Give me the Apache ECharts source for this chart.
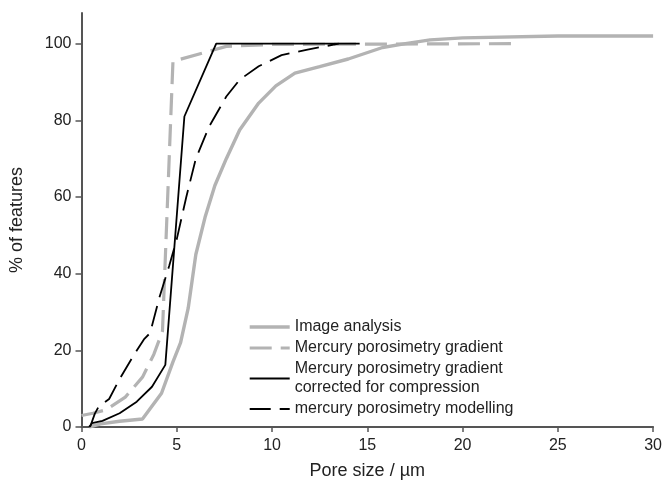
<!DOCTYPE html>
<html>
<head>
<meta charset="utf-8">
<script src="https://cdn.jsdelivr.net/npm/echarts@6/dist/echarts.min.js"></script>
<style>
html,body{margin:0;padding:0;background:#fff;}
#chart{width:665px;height:488px;}
</style>
</head>
<body>
<div id="chart"></div>
<script>
// Data (x = pore size in µm, y = % of features)
var seriesNames = [
  'Image analysis',
  'Mercury porosimetry gradient',
  'Mercury porosimetry gradient\ncorrected for compression',
  'mercury porosimetry modelling'
];
var imageAnalysis = [[0.4,0],[1,0.8],[2,1.5],[3.2,2.1],[4.2,8.8],[4.8,17],[5.2,22],[5.6,31],[6,45],[6.5,55],[7,63],[7.6,70],[8.3,77.5],[9.3,84.5],[10.2,89],[11.2,92.3],[12.5,94],[14,96],[15.8,99],[17,100],[18.3,101],[20,101.5],[25,102],[30,102]];
var mercuryGradient = [[0,3],[0.6,3.6],[1.3,4.5],[2.3,7.8],[3.2,13],[3.8,19],[4.25,25],[4.8,95.4],[7.6,99.3],[10,99.8],[22.7,100]];
var mercuryCorrected = [[0.4,0],[0.55,1],[1.1,1.6],[2,3.6],[2.9,6.6],[3.7,10.5],[4.4,16.2],[5.4,81],[7.07,100],[10,100],[14.6,100]];
var mercuryModelling = [[0.45,0],[0.7,3.5],[0.9,5.3],[1.45,7.3],[2,12.5],[2.7,18.4],[3.3,23],[3.6,24.5],[4.1,34],[4.6,42],[5,49],[5.5,60],[6,70],[6.7,78.4],[7.6,86.2],[8.3,90.6],[9.3,94.1],[10.5,97],[11.8,98.4],[13.5,100]];
var xTicks = [0,5,10,15,20,25,30];
var yTicks = [0,20,40,60,80,100];

var chart = echarts.init(document.getElementById('chart'), null, {renderer:'canvas'});
var grayC = '#b3b3b3';
var axisC = '#555555';
var font = 'Liberation Sans, Arial, sans-serif';
var styles = [
  {color:grayC, width:3.4, type:'solid'},
  {color:grayC, width:3.2, type:[22,9]},
  {color:'#000', width:1.8, type:'solid'},
  {color:'#000', width:1.8, type:[21,9]}
];
var datasets = [imageAnalysis, mercuryGradient, mercuryCorrected, mercuryModelling];

chart.setOption({
  animation:false,
  backgroundColor:'#ffffff',
  grid:{left:81.5, right:9.5, top:13, bottom:61},
  legend:{
    orient:'vertical', left:248, top:317.5, padding:0,
    itemWidth:40, itemHeight:19, itemGap:2,
    itemStyle:{opacity:0},
    textStyle:{fontFamily:font, fontSize:16, color:'#222', lineHeight:19},
    data: seriesNames.map(function(n,i){
      return {name:n, lineStyle:{color:styles[i].color, width:styles[i].width, type:styles[i].type}, itemStyle:{opacity:0}};
    })
  },
  xAxis:{
    type:'value', min:0, max:30, interval:5,
    name:'Pore size / \u00b5m', nameLocation:'middle', nameGap:35,
    nameTextStyle:{fontFamily:font, fontSize:18, color:'#222'},
    axisLine:{show:true, lineStyle:{color:axisC, width:2}},
    axisTick:{show:true, length:5, lineStyle:{color:axisC, width:1.5}},
    axisLabel:{fontFamily:font, fontSize:16, color:'#222', margin:11, customValues: xTicks},
    splitLine:{show:false}
  },
  yAxis:{
    type:'value', min:0, max:108,
    name:'% of features', nameLocation:'middle', nameGap:55,
    nameTextStyle:{fontFamily:font, fontSize:18, color:'#222'},
    axisLine:{show:true, lineStyle:{color:axisC, width:2}},
    axisTick:{show:true, length:6, lineStyle:{color:axisC, width:1.5}, customValues: yTicks},
    axisLabel:{fontFamily:font, fontSize:16, color:'#222', margin:10, customValues: yTicks},
    splitLine:{show:false}
  },
  series: seriesNames.map(function(n,i){
    return {name:n, type:'line', data:datasets[i], showSymbol:false, symbol:'none',
      lineStyle:{color:styles[i].color, width:styles[i].width, type:styles[i].type},
      itemStyle:{color:styles[i].color}, z:i+1};
  })
});
</script>
</body>
</html>
